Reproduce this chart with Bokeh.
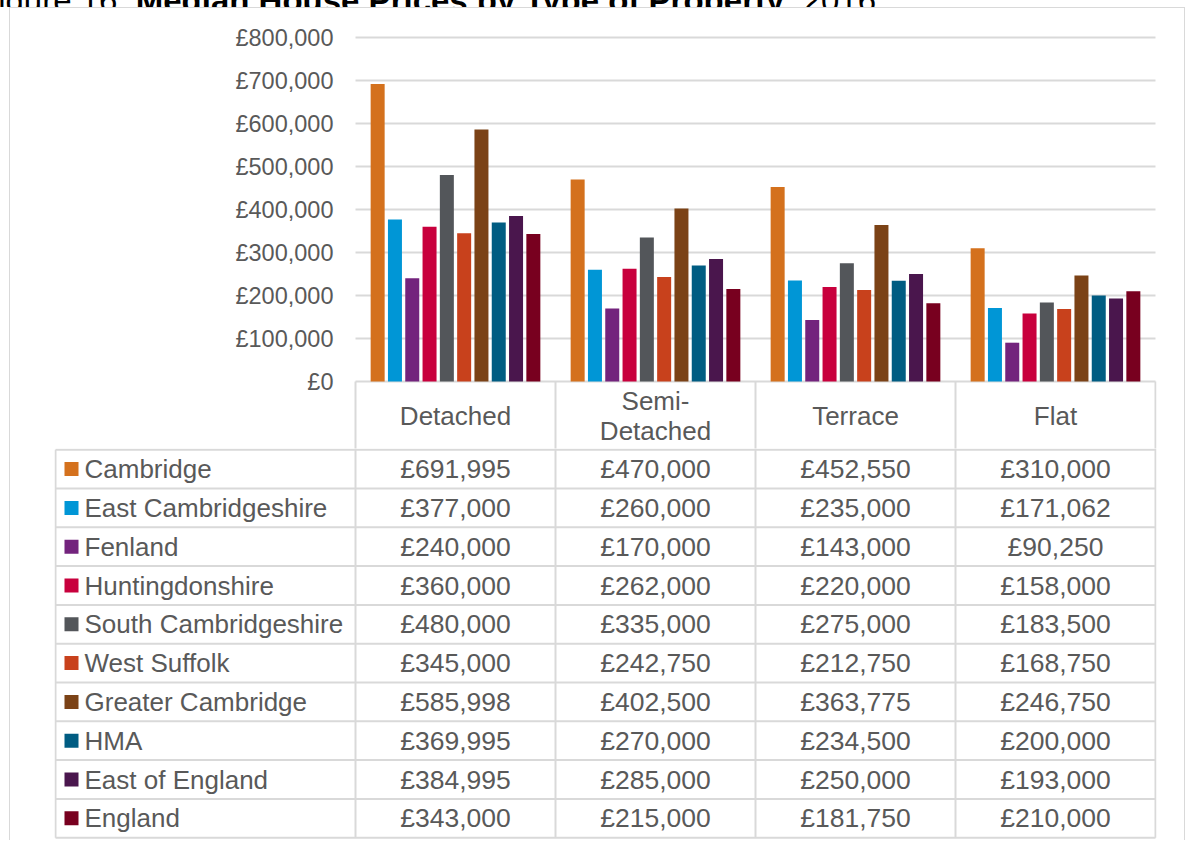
from bokeh.plotting import figure
from bokeh.layouts import column
from bokeh.models import (ColumnDataSource, Range1d, CustomJSTickFormatter,
                          FixedTicker, Div)
from bokeh.transform import dodge
from bokeh.core.properties import value
from bokeh.embed import file_html
from bokeh.resources import INLINE

# ---------------- data ----------------
categories = ["Detached", "Semi-Detached", "Terrace", "Flat"]
header_labels = ["Detached", "Semi-\nDetached", "Terrace", "Flat"]
areas = ["Cambridge", "East Cambridgeshire", "Fenland", "Huntingdonshire",
         "South Cambridgeshire", "West Suffolk", "Greater Cambridge", "HMA",
         "East of England", "England"]
colors = ["#D4711D", "#0096D6", "#73237D", "#C8003D", "#53565A",
          "#C8411C", "#7B4216", "#005C82", "#4A164D", "#78001F"]
detached = [691995, 377000, 240000, 360000, 480000, 345000, 585998, 369995, 384995, 343000]
semi_detached = [470000, 260000, 170000, 262000, 335000, 242750, 402500, 270000, 285000, 215000]
terrace = [452550, 235000, 143000, 220000, 275000, 212750, 363775, 234500, 250000, 181750]
flat = [310000, 171062, 90250, 158000, 183500, 168750, 246750, 200000, 193000, 210000]
yticks = [0, 100000, 200000, 300000, 400000, 500000, 600000, 700000, 800000]
title_normal = "Figure 16: "
title_bold = "Median House Prices by Type of Property"
title_end = ", 2016"

by_category = [detached, semi_detached, terrace, flat]

TEXT = "#595959"
GRID = "#D9D9D9"
FONT = "Liberation Sans"

W = 1174
n = len(areas)
ncat = len(categories)
LEG = 1.5          # width of the legend column, in category widths

# vertical layout (px)
AXIS_PX = 344      # £0 .. top tick
PAD_TOP = 14       # frame space above the top tick
HDR_PX = 68        # table header height (below £0)
PAD_BOT = HDR_PX - 1
TOP = 15           # canvas border above the frame
ROW_PX = 38.8      # table row height

H1 = TOP + PAD_TOP + AXIS_PX + PAD_BOT
H2 = int(1 + n * ROW_PX) + 3

common = dict(output_backend="svg", toolbar_location=None,
              min_border_left=44, min_border_right=28)

# ---------------- bar chart + table header ----------------
per_px = yticks[-1] / AXIS_PX
p1 = figure(width=W, height=H1,
            x_range=Range1d(-LEG - 0.005, ncat + 0.005),
            y_range=Range1d(yticks[0] - PAD_BOT * per_px, yticks[-1] + PAD_TOP * per_px),
            x_axis_location=None,
            min_border_top=TOP, min_border_bottom=0, **common)
p1.outline_line_color = None
p1.grid.grid_line_color = None

# horizontal gridlines over the category area only
p1.segment(x0=[0] * len(yticks), x1=[ncat] * len(yticks), y0=yticks, y1=yticks,
           line_color=GRID, line_width=2)
# column lines of the table header
p1.segment(x0=list(range(ncat + 1)), x1=list(range(ncat + 1)),
           y0=[yticks[0]] * (ncat + 1), y1=[p1.y_range.start] * (ncat + 1),
           line_color=GRID, line_width=2)
# header labels
p1.text(x=[c + 0.5 for c in range(ncat)], y=[-HDR_PX / 2 * per_px] * ncat,
        text=header_labels, text_align="center", text_baseline="middle",
        text_font=value(FONT), text_font_size=value("26px"), text_color=TEXT,
        text_line_height=1.0)

p1.yaxis.fixed_location = 0
p1.yaxis.ticker = FixedTicker(ticks=yticks)
p1.yaxis.formatter = CustomJSTickFormatter(
    code=r"return '£' + Math.round(tick).toString().replace(/\B(?=(\d{3})+(?!\d))/g, ',');")
p1.yaxis.axis_line_color = None
p1.yaxis.major_tick_line_color = None
p1.yaxis.minor_tick_line_color = None
p1.yaxis.major_tick_out = 0
p1.yaxis.major_tick_in = 0
p1.yaxis.major_label_standoff = 22
p1.yaxis.major_label_text_font = FONT
p1.yaxis.major_label_text_font_size = "23.5px"
p1.yaxis.major_label_text_color = TEXT

data = {"cat": categories, "xc": [c + 0.5 for c in range(ncat)]}
for i in range(n):
    data[f"s{i}"] = [by_category[c][i] for c in range(ncat)]
src = ColumnDataSource(data)
pitch = 0.0865
for i in range(n):
    p1.vbar(x=dodge("xc", (i - (n - 1) / 2) * pitch), top=f"s{i}",
            width=0.07, source=src, fill_color=colors[i], line_color=None)

# ---------------- data table rows ----------------
top_y = -1.2 / ROW_PX
p2 = figure(width=W, height=H2,
            x_range=Range1d(-LEG - 0.005, ncat + 0.005),
            y_range=Range1d(n + (H2 - 1.2 - n * ROW_PX) / ROW_PX, top_y),
            x_axis_location=None, y_axis_location=None,
            min_border_top=0, min_border_bottom=0, **common)
p2.outline_line_color = None
p2.grid.grid_line_color = None

x0, y0, x1, y1 = [], [], [], []
for r in range(n + 1):
    x0.append(-LEG); x1.append(ncat); y0.append(r); y1.append(r)
for c in range(ncat + 1):
    x0.append(c); x1.append(c); y0.append(top_y - 0.05); y1.append(n)
x0.append(-LEG); x1.append(-LEG); y0.append(0); y1.append(n)
p2.segment(x0=x0, y0=y0, x1=x1, y1=y1, line_color=GRID, line_width=2)

p2.scatter(x=[-1.42] * n, y=[r + 0.5 for r in range(n)], marker="square", size=14,
           fill_color=colors, line_color=None)
p2.text(x=[-1.355] * n, y=[r + 0.5 for r in range(n)], text=areas,
        text_align="left", text_baseline="middle", text_font=value(FONT),
        text_font_size=value("26px"), text_color=TEXT)

vx, vy, vt = [], [], []
for c in range(ncat):
    for r in range(n):
        vx.append(c + 0.5)
        vy.append(r + 0.5)
        vt.append(f"£{by_category[c][r]:,}")
p2.text(x=vx, y=vy, text=vt, text_align="center", text_baseline="middle",
        text_font=value(FONT), text_font_size=value("26.5px"), text_color=TEXT)

# ---------------- title (cropped at the top, as in the reference) ----------------
title = Div(
    text=(f'<div style="margin-top:-23px;margin-left:-22px;white-space:nowrap;'
          f'font-family:\'Liberation Sans\',Arial,sans-serif;font-size:33px;line-height:33px;color:#000">'
          f'{title_normal}<b>{title_bold}</b>{title_end}</div>'),
    width=1188, height=7, margin=0, styles={"overflow": "hidden"})

framed = column(p1, p2, spacing=0, margin=(0, 0, 0, 9),
                styles={"border-left": "1px solid #D9D9D9",
                        "border-top": "1px solid #D9D9D9",
                        "border-right": "1px solid #D9D9D9"})
layout = column(title, framed, spacing=0)

open("out.html", "w").write(file_html(layout, INLINE))
